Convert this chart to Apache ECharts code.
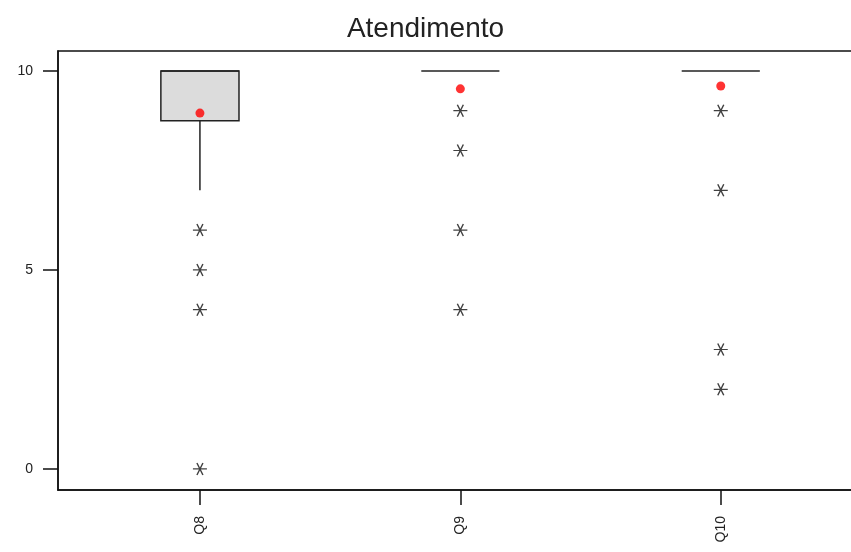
<!DOCTYPE html>
<html>
<head>
<meta charset="utf-8">
<script src="https://cdn.jsdelivr.net/npm/echarts@6/dist/echarts.min.js"></script>
<style>
  html, body { margin: 0; padding: 0; background: #fff; }
  #chart { width: 851px; height: 552px; }
</style>
</head>
<body>
<div id="chart"></div>
<script>
// categorias e estatisticas
var categories = ['Q8', 'Q9', 'Q10'];
// [min, Q1, mediana, Q3, max] (sem outliers)
var boxData = [
    [7, 8.75, 10, 10, 10],
    [10, 10, 10, 10, 10],
    [10, 10, 10, 10, 10]
];
var means = [8.94, 9.55, 9.62];
var outliers = [
    [6, 5, 4, 0],
    [9, 8, 6, 4],
    [9, 7, 3, 2]
];
var yTicks = [0, 5, 10];

var chart = echarts.init(document.getElementById('chart'));

var boxItems = boxData.map(function (b, i) { return [i + 1].concat(b); });
var meanItems = means.map(function (m, i) { return [i + 1, m]; });
var outlierItems = [];
outliers.forEach(function (list, i) {
    list.forEach(function (v) { outlierItems.push([i + 1, v]); });
});

// asterisco estilo minitab
var asterisk = 'path://M0,6L14,6M4,0L10,12M10,0L4,12';

function renderBox(params, api) {
    var x = api.value(0);
    var half = 0.15;
    var pMin = api.coord([x, api.value(1)]);
    var pQ1L = api.coord([x - half, api.value(2)]);
    var pQ3R = api.coord([x + half, api.value(4)]);
    var pMed = api.value(3);
    var mL = api.coord([x - half, pMed]);
    var mR = api.coord([x + half, pMed]);
    var pMax = api.coord([x, api.value(5)]);
    var pQ1 = api.coord([x, api.value(2)]);
    var pQ3 = api.coord([x, api.value(4)]);
    var st = { stroke: '#222', lineWidth: 1.5 };
    var kids = [];
    if (pQ1L[1] - pQ3R[1] > 0.5) {
        kids.push({
            type: 'rect',
            shape: { x: pQ1L[0], y: pQ3R[1], width: pQ3R[0] - pQ1L[0], height: pQ1L[1] - pQ3R[1] },
            style: { fill: '#dcdcdc', stroke: '#222', lineWidth: 1.5 }
        });
    }
    kids.push({ type: 'line', shape: { x1: mL[0], y1: mL[1], x2: mR[0], y2: mR[1] }, style: st });
    if (pMin[1] - pQ1[1] > 0.5) {
        kids.push({ type: 'line', shape: { x1: pMin[0], y1: pMin[1], x2: pQ1[0], y2: pQ1[1] }, style: st });
    }
    if (pQ3[1] - pMax[1] > 0.5) {
        kids.push({ type: 'line', shape: { x1: pMax[0], y1: pMax[1], x2: pQ3[0], y2: pQ3[1] }, style: st });
    }
    return { type: 'group', children: kids };
}

var option = {
    animation: false,
    backgroundColor: '#fff',
    title: {
        text: 'Atendimento',
        left: 'center',
        top: 10,
        textStyle: { fontFamily: 'Liberation Sans', fontSize: 28, fontWeight: 'normal', color: '#222' }
    },
    grid: {
        left: 58, top: 51, height: 439, width: 806,
        outerBoundsMode: 'none',
        containLabel: false,
        show: true, borderColor: '#111', borderWidth: 1.5, backgroundColor: 'transparent'
    },
    xAxis: {
        type: 'value',
        min: 0.455,
        max: 3.55,
        splitLine: { show: false },
        axisLine: { show: true, onZero: false, lineStyle: { color: '#111', width: 1.5 } },
        axisTick: { show: true, length: 15, customValues: [1, 2, 3], lineStyle: { color: '#111', width: 1.5 } },
        axisLabel: {
            customValues: [1, 2, 3],
            rotate: 90,
            margin: 26,
            fontFamily: 'Liberation Sans', fontSize: 14, color: '#222',
            formatter: function (v) { return categories[Math.round(v) - 1] || ''; }
        }
    },
    yAxis: {
        type: 'value',
        min: -0.53,
        max: 10.5,
        splitLine: { show: false },
        axisLine: { show: true, onZero: false, lineStyle: { color: '#111', width: 1.5 } },
        axisTick: { show: true, length: 15, customValues: yTicks, lineStyle: { color: '#111', width: 1.5 } },
        axisLabel: {
            customValues: yTicks,
            margin: 25,
            fontFamily: 'Liberation Sans', fontSize: 14, color: '#222'
        }
    },
    series: [
        {
            type: 'custom',
            renderItem: renderBox,
            data: boxItems,
            encode: { x: 0, y: [1, 2, 3, 4, 5] },
            z: 2
        },
        {
            type: 'scatter',
            data: outlierItems,
            symbol: asterisk,
            symbolSize: [14, 12],
            itemStyle: { color: 'none', borderColor: '#111', borderWidth: 1.3 },
            z: 3
        },
        {
            type: 'scatter',
            data: meanItems,
            symbol: 'circle',
            symbolSize: 9,
            itemStyle: { color: '#ff0000' },
            z: 4
        }
    ]
};

chart.setOption(option);
</script>
</body>
</html>
